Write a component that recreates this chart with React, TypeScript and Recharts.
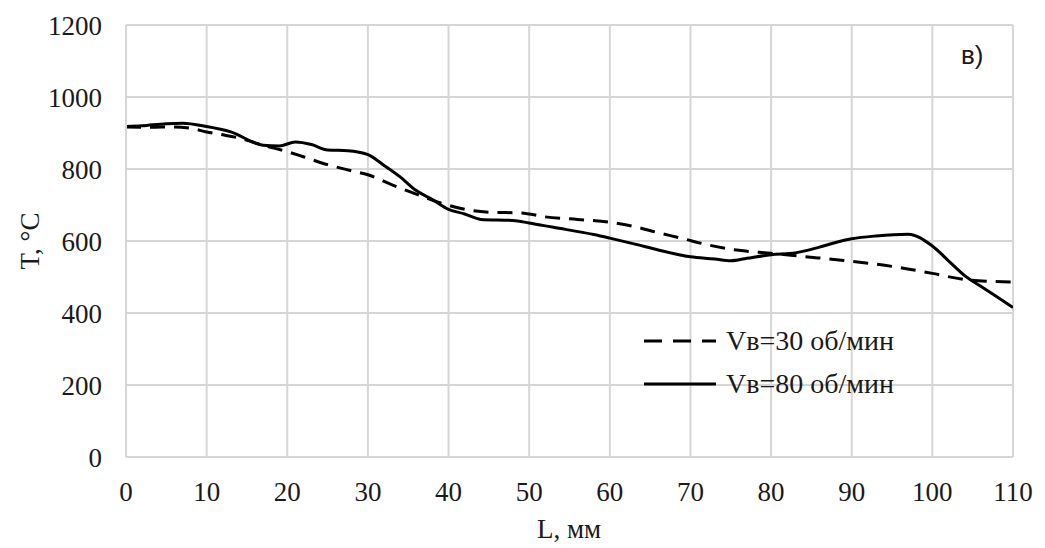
import { CartesianGrid, Label, Line, LineChart, XAxis, YAxis } from "recharts";

// L, mm / T, °C
const lengthsSlow = [0, 3, 6, 8, 10, 12, 14, 17, 20, 22, 25, 28, 30, 33, 36, 39, 42, 45, 49, 52, 56, 60, 63, 66, 69, 72, 76, 80, 84, 89, 96, 100, 104, 107, 110];
const tempsSlow = [917, 916, 917, 913, 903, 895, 886, 866, 848, 834, 812, 795, 784, 756, 730, 706, 688, 680, 678, 667, 660, 652, 640, 623, 607, 590, 574, 566, 557, 546, 526, 510, 493, 488, 486];

const lengthsFast = [0, 2, 5, 7, 10, 13, 17, 19, 21, 23, 25, 27.5, 30, 32, 34, 36, 38, 40, 42, 44, 48, 50, 53, 58, 60, 63, 66, 70, 73, 75, 77, 80, 83, 86, 88, 90, 93, 97, 100, 102, 104, 106, 108, 110];
const tempsFast = [918, 920, 926, 927, 918, 903, 866, 864, 875, 868, 853, 851, 840, 810, 778, 740, 715, 688, 675, 660, 657, 650, 638, 618, 608, 592, 575, 556, 550, 545, 552, 562, 567, 583, 596, 606, 614, 619, 586, 545, 504, 474, 445, 415];

const xTicks = [0, 10, 20, 30, 40, 50, 60, 70, 80, 90, 100, 110];
const yTicks = [0, 200, 400, 600, 800, 1000, 1200];

const seriesNames = ["Vв=30 об/мин", "Vв=80 об/мин"];

const slowData = lengthsSlow.map((l, i) => ({ l, t: tempsSlow[i] }));
const fastData = lengthsFast.map((l, i) => ({ l, t: tempsFast[i] }));

const serif = '"Liberation Serif", "Times New Roman", serif';
const tickStyle = { fontFamily: serif, fontSize: 27, fill: "#1a1a1a" };
const gridColor = "#d6d6d6";

function LegendBox() {
    const rows = [
        { name: seriesNames[0], dash: "18 11" },
        { name: seriesNames[1], dash: undefined },
    ];
    return (
        <div style={{ position: "absolute", left: 640, top: 319, fontFamily: serif, fontSize: 28, color: "#1a1a1a" }}>
            {rows.map((r) => (
                <div key={r.name} style={{ display: "flex", alignItems: "center", height: 43 }}>
                    <svg width={80} height={10} style={{ marginRight: 6 }}>
                        <line x1={4} y1={5} x2={76} y2={5} stroke="#000" strokeWidth={3} strokeDasharray={r.dash} />
                    </svg>
                    <span>{r.name}</span>
                </div>
            ))}
        </div>
    );
}

export default function App() {
    return (
        <div style={{ position: "absolute", left: 0, top: 0, width: 1045, height: 548, background: "#fff" }}>
            <LineChart width={1045} height={548} margin={{ top: 25, right: 32, bottom: 0, left: 0 }}>
                <CartesianGrid stroke={gridColor} strokeWidth={2} />
                <XAxis
                    type="number"
                    dataKey="l"
                    domain={[0, 110]}
                    ticks={xTicks}
                    height={91}
                    tickLine={false}
                    tickSize={0}
                    tickMargin={25}
                    axisLine={{ stroke: gridColor, strokeWidth: 2 }}
                    tick={tickStyle}
                    allowDataOverflow
                >
                    <Label
                        content={() => (
                            <text x={569} y={538} textAnchor="middle" style={{ fontFamily: serif, fontSize: 27, fill: "#1a1a1a" }}>
                                L, мм
                            </text>
                        )}
                    />
                </XAxis>
                <YAxis
                    type="number"
                    domain={[0, 1200]}
                    ticks={yTicks}
                    width={126}
                    tickLine={false}
                    tickSize={0}
                    tickMargin={24}
                    axisLine={{ stroke: gridColor, strokeWidth: 2 }}
                    tick={tickStyle}
                >
                    <Label
                        content={() => (
                            <text
                                x={30}
                                y={241}
                                transform="rotate(-90 30 241)"
                                textAnchor="middle"
                                dominantBaseline="central"
                                style={{ fontFamily: serif, fontSize: 27, fill: "#1a1a1a" }}
                            >
                                T, °C
                            </text>
                        )}
                    />
                </YAxis>
                <Line
                    data={slowData}
                    dataKey="t"
                    name={seriesNames[0]}
                    type="monotone"
                    stroke="#000"
                    strokeWidth={3}
                    strokeDasharray="15 9"
                    dot={false}
                    isAnimationActive={false}
                />
                <Line
                    data={fastData}
                    dataKey="t"
                    name={seriesNames[1]}
                    type="monotone"
                    stroke="#000"
                    strokeWidth={3}
                    dot={false}
                    isAnimationActive={false}
                />
            </LineChart>
            <LegendBox />
            <div
                style={{
                    position: "absolute",
                    left: 961,
                    top: 40,
                    fontFamily: '"Liberation Sans", Arial, sans-serif',
                    fontSize: 26,
                    color: "#1a1a1a",
                }}
            >
                в)
            </div>
        </div>
    );
}
